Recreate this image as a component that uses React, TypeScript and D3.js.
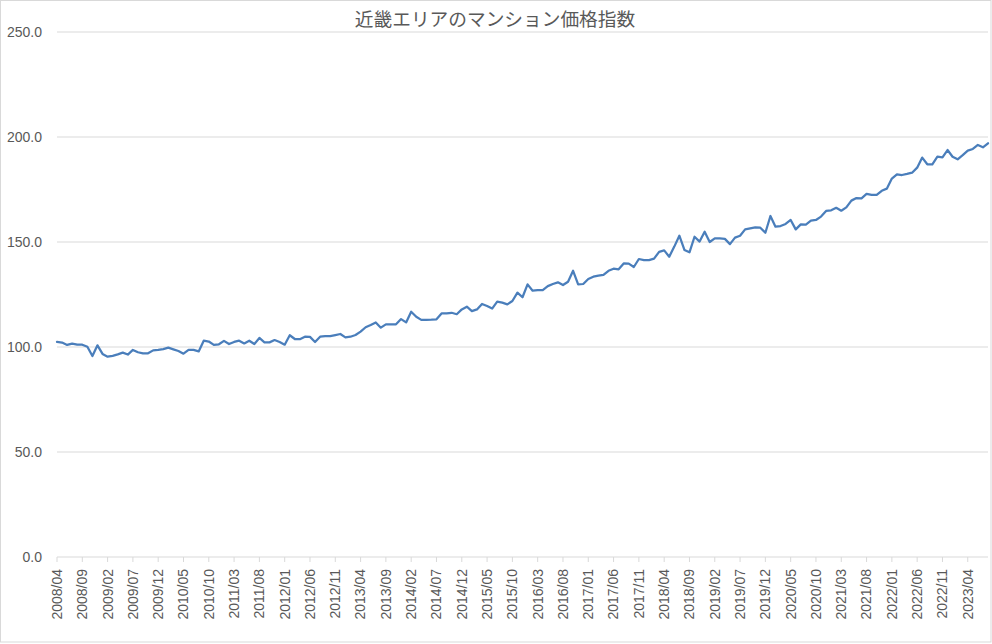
import React from "react";
import * as d3 from "d3";

const title = "近畿エリアのマンション価格指数";
const startYear = 2008;
const startMonth = 4;
const values: number[] = [
  102.4, 102.1, 101.0, 101.6, 101.1, 101.1, 100.1, 95.7, 100.8, 96.7,
  95.4, 95.8, 96.5, 97.3, 96.4, 98.6, 97.5, 97.0, 97.0, 98.4,
  98.6, 99.0, 99.7, 98.9, 98.1, 96.8, 98.6, 98.6, 97.9, 103.0,
  102.6, 101.0, 101.3, 102.9, 101.4, 102.4, 103.0, 101.7, 103.0, 101.4,
  104.3, 102.2, 102.2, 103.3, 102.4, 101.1, 105.6, 103.8, 103.7, 104.9,
  104.8, 102.4, 104.9, 105.2, 105.2, 105.7, 106.2, 104.6, 104.9, 105.7,
  107.3, 109.4, 110.5, 111.7, 109.2, 110.8, 110.8, 110.8, 113.3, 111.7,
  116.8, 114.4, 112.9, 112.9, 113.0, 113.2, 116.0, 116.0, 116.3, 115.6,
  117.9, 119.2, 117.1, 117.9, 120.5, 119.5, 118.3, 121.6, 121.1, 120.3,
  121.9, 125.9, 123.7, 129.8, 126.8, 127.1, 127.1, 129.0, 130.0, 130.8,
  129.5, 131.1, 136.3, 129.8, 130.0, 132.4, 133.5, 134.0, 134.3, 136.3,
  137.3, 137.0, 139.8, 139.7, 138.1, 141.9, 141.4, 141.4, 142.1, 145.3,
  146.0, 143.0, 147.8, 153.0, 146.2, 145.1, 152.5, 150.2, 154.9, 150.0,
  151.7, 151.7, 151.5, 149.0, 152.1, 153.0, 156.0, 156.5, 157.0, 156.8,
  154.4, 162.4, 157.3, 157.6, 158.6, 160.5, 156.0, 158.4, 158.3, 160.2,
  160.5, 162.1, 164.8, 165.1, 166.3, 164.9, 166.5, 169.7, 170.9, 170.8,
  172.9, 172.4, 172.4, 174.4, 175.4, 180.2, 182.2, 181.9, 182.4, 183.0,
  185.4, 190.2, 187.0, 187.0, 190.6, 190.3, 193.8, 190.6, 189.4, 191.4,
  193.5, 194.3, 196.2, 195.1, 197.0,
];
const yTicks = [0, 50, 100, 150, 200, 250];
const labelEvery = 5;

const categories: string[] = values.map((_, i) => {
  const m = startMonth - 1 + i;
  const y = startYear + Math.floor(m / 12);
  const mm = (m % 12) + 1;
  return `${y}/${String(mm).padStart(2, "0")}`;
});

const W = 992;
const H = 644;
const left = 57;
const right = 988;
const top = 32;
const bottom = 557;
const numFont = "'Liberation Sans', Arial, sans-serif";
const textColor = "#595959";
const gridColor = "#d9d9d9";

export default function App() {
  const x = d3.scalePoint<string>().domain(categories).range([left, right]).padding(0);
  const y = d3.scaleLinear().domain([0, 250]).range([bottom, top]);
  const line = d3
    .line<number>()
    .x((_, i) => x(categories[i]) as number)
    .y((d) => y(d));
  const labeled = categories.filter((_, i) => i % labelEvery === 0);

  return (
    <div style={{ position: "fixed", left: 0, top: 0, width: W, height: H, background: "#fff" }}>
      <svg width={W} height={H} style={{ display: "block" }}>
        <rect x={0.5} y={0.5} width={W - 1.5} height={H - 2.5} fill="#fff" stroke={gridColor} />
        <text
          x={495}
          y={26}
          textAnchor="middle"
          fontSize={18.7}
          fill={textColor}
          fontFamily="'Noto Sans CJK JP', sans-serif"
        >
          {title}
        </text>
        {yTicks.map((t) => (
          <g key={t}>
            {t !== 0 && (
              <line x1={left} x2={right} y1={y(t)} y2={y(t)} stroke={gridColor} strokeWidth={1} />
            )}
            <text
              x={42}
              y={y(t)}
              dy="0.35em"
              textAnchor="end"
              fontSize={14}
              fill={textColor}
              fontFamily={numFont}
            >
              {d3.format(".1f")(t)}
            </text>
          </g>
        ))}
        <line x1={left} x2={right} y1={bottom} y2={bottom} stroke={gridColor} strokeWidth={1} />
        {labeled.map((c) => {
          const cx = x(c) as number;
          return (
            <g key={c}>
              <line x1={cx} x2={cx} y1={bottom} y2={bottom + 5} stroke={gridColor} strokeWidth={1} />
              <text
                transform={`translate(${cx},${bottom + 12}) rotate(-90)`}
                textAnchor="end"
                dy="0.35em"
                fontSize={14}
                fill={textColor}
                fontFamily={numFont}
              >
                {c}
              </text>
            </g>
          );
        })}
        <path
          d={line(values) || ""}
          fill="none"
          stroke="#4a7ebb"
          strokeWidth={2.25}
          strokeLinejoin="round"
          strokeLinecap="round"
        />
      </svg>
    </div>
  );
}
